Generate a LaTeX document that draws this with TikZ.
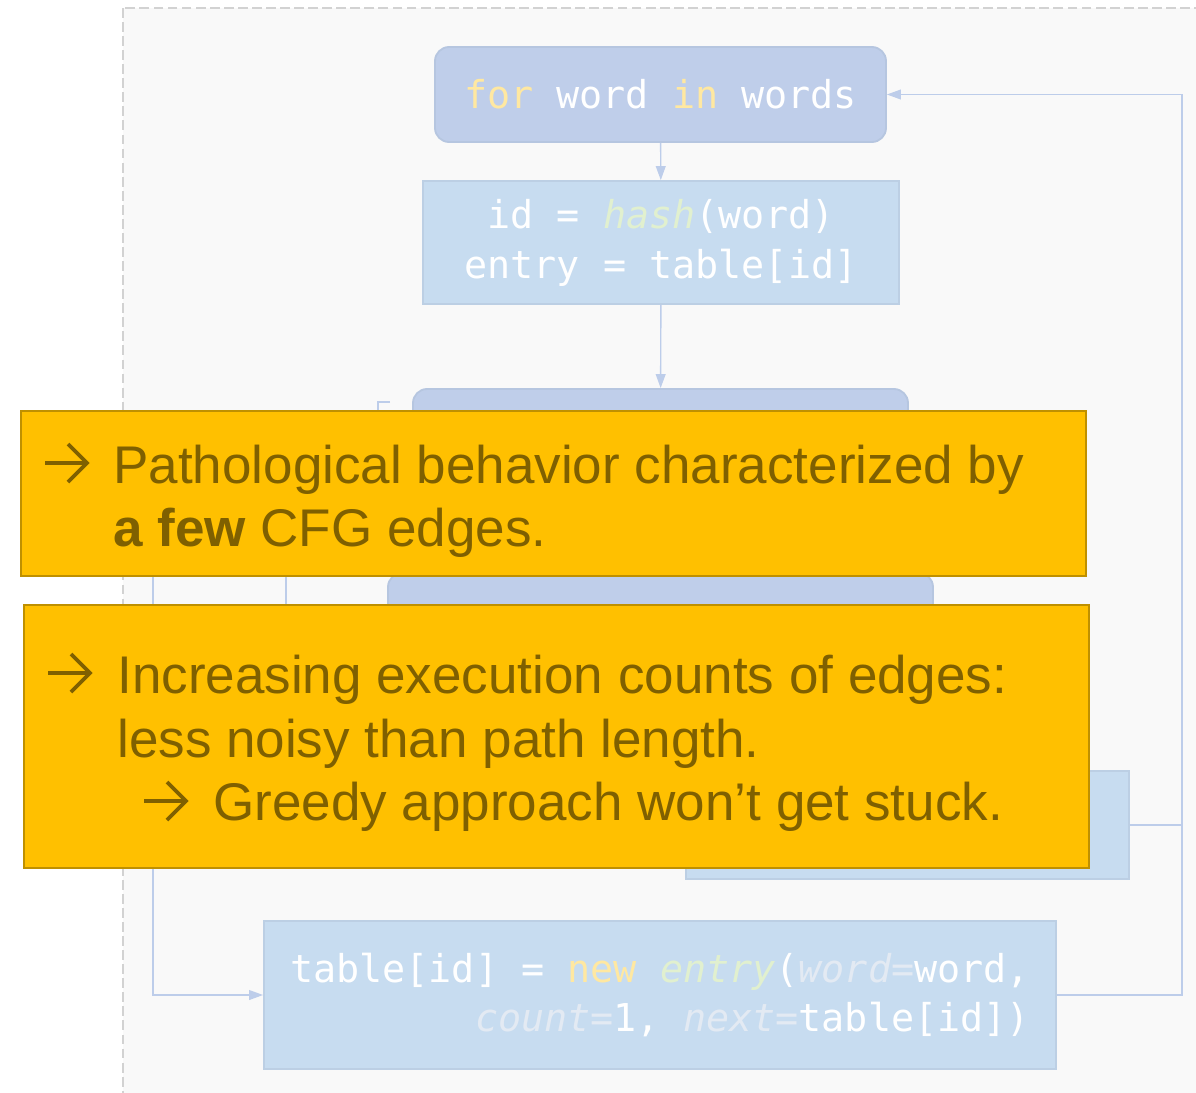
\documentclass[tikz,border=0pt]{standalone}
\usepackage{fontspec}
\setmainfont{Liberation Sans}
\newfontfamily\codefont{DejaVu Sans Mono}
\usetikzlibrary{arrows.meta}

\definecolor{bgfill}{HTML}{F9F9F9}
\definecolor{framegray}{HTML}{D2D2D2}
\definecolor{loopblue}{HTML}{BFCEEA}
\definecolor{loopedge}{HTML}{B6C6E0}
\definecolor{stmtblue}{HTML}{C7DCF0}
\definecolor{stmtedge}{HTML}{BCCFE4}
\definecolor{edgeblue}{HTML}{BDCDEA}
\definecolor{kwyellow}{HTML}{FFE8A1}
\definecolor{fngreen}{HTML}{E1F0CF}
\definecolor{parampale}{HTML}{E3EAF3}
\definecolor{notefill}{HTML}{FFC000}
\definecolor{noteline}{HTML}{BF9000}
\definecolor{notebrown}{HTML}{7F6000}

\newcommand{\pxu}{0.025cm}
\newcommand{\kw}[1]{\textcolor{kwyellow}{#1}}
\newcommand{\fn}[1]{\textcolor{fngreen}{\itshape #1}}
\newcommand{\param}[1]{\textcolor{parampale}{\itshape #1}}

\begin{document}
\begin{tikzpicture}[x=0.025cm,y=-0.025cm,
    code/.style={font=\codefont\fontsize{27.3}{35.5}\selectfont, text=white, inner sep=0pt},
    loopbox/.style={code, draw=loopedge, fill=loopblue, line width=1.3pt, rounded corners=10pt},
    stmtbox/.style={code, draw=stmtedge, fill=stmtblue, line width=1.3pt},
    flow/.style={draw=edgeblue, line width=1pt, -{Triangle[length=10pt,width=7pt]}},
    plainline/.style={draw=edgeblue, line width=1pt},
    notebox/.style={draw=noteline, fill=notefill, line width=2pt},
    notemark/.style={draw=notebrown, line width=2.6pt},
    notetext/.style={font=\fontsize{37.7}{44.7}\selectfont, text=notebrown, inner sep=0pt, anchor=base west}]
    \useasboundingbox (0,0) rectangle (1196,1092);

    % dashed frame of the function
    \draw[framegray, fill=bgfill, line width=1.4pt, dash pattern=on 7pt off 3pt] (123,8) rectangle (1240,1140);

    % CFG blocks
    \node[loopbox, minimum width=451*\pxu, minimum height=95*\pxu] (loop) at (660.5,94.5)
        {\kw{for} word \kw{in} words};
    \node[stmtbox, minimum width=476*\pxu, minimum height=123*\pxu, align=center] (hash) at (661,242.5)
        {id = \fn{hash}(word)\\entry = table[id]};
    \node[loopbox, minimum width=495*\pxu, minimum height=110*\pxu] (cond) at (660.5,444) {};
    \node[loopbox, minimum width=545*\pxu, minimum height=130*\pxu] (incr) at (660.5,638) {};
    \node[stmtbox, minimum width=443*\pxu, minimum height=108*\pxu] (update) at (907.5,825) {};
    \node[stmtbox, minimum width=792*\pxu, minimum height=148*\pxu, align=right] (newentry) at (660,995)
        {table[id] = \kw{new} \fn{entry}(\param{word=}word,\\
         \param{count=}1, \param{next=}table[id])};

    % connectors
    \coordinate (rail) at (1182,0);
    \coordinate (condtap) at (390,402);
    \coordinate (condleft) at (378,480);
    \coordinate (lefttop) at (153,540);
    \coordinate (midtop) at (286,540);
    \coordinate (midbot) at (286,650);

    \draw[flow] (loop) -- (hash);
    \draw[flow] (hash) -- (cond);
    \draw[plainline] (condtap) -| (condleft);
    \draw[plainline] (midtop) -- (midbot);
    \draw[flow] (lefttop) |- (newentry.west);
    \draw[plainline] (update.east) -- (update.east -| rail);
    \draw[flow] (newentry.east) -- (newentry.east -| rail) |- (loop.east);

    % notes on top
    \node[notebox, minimum width=1065*\pxu, minimum height=165*\pxu] (note1) at (553.5,493.5) {};
    \draw[notemark] (45,463) -- (87,463) (68,444) -- (87,463) -- (68,482);
    \node[notetext] (note1a) at (113,483) {Pathological behavior characterized by};
    \node[notetext] (note1b) at (113,546) {\textbf{a few} CFG edges.};

    \node[notebox, minimum width=1065*\pxu, minimum height=263*\pxu] (note2) at (556.5,736.5) {};
    \draw[notemark] (48,673) -- (90,673) (71,654) -- (90,673) -- (71,692);
    \node[notetext] (note2a) at (117,693) {Increasing execution counts of edges:};
    \node[notetext] (note2b) at (117,757) {less noisy than path length.};
    \draw[notemark] (144,801) -- (186,801) (167,782) -- (186,801) -- (167,820);
    \node[notetext] (note2c) at (213,820) {Greedy approach won’t get stuck.};
\end{tikzpicture}
\end{document}
